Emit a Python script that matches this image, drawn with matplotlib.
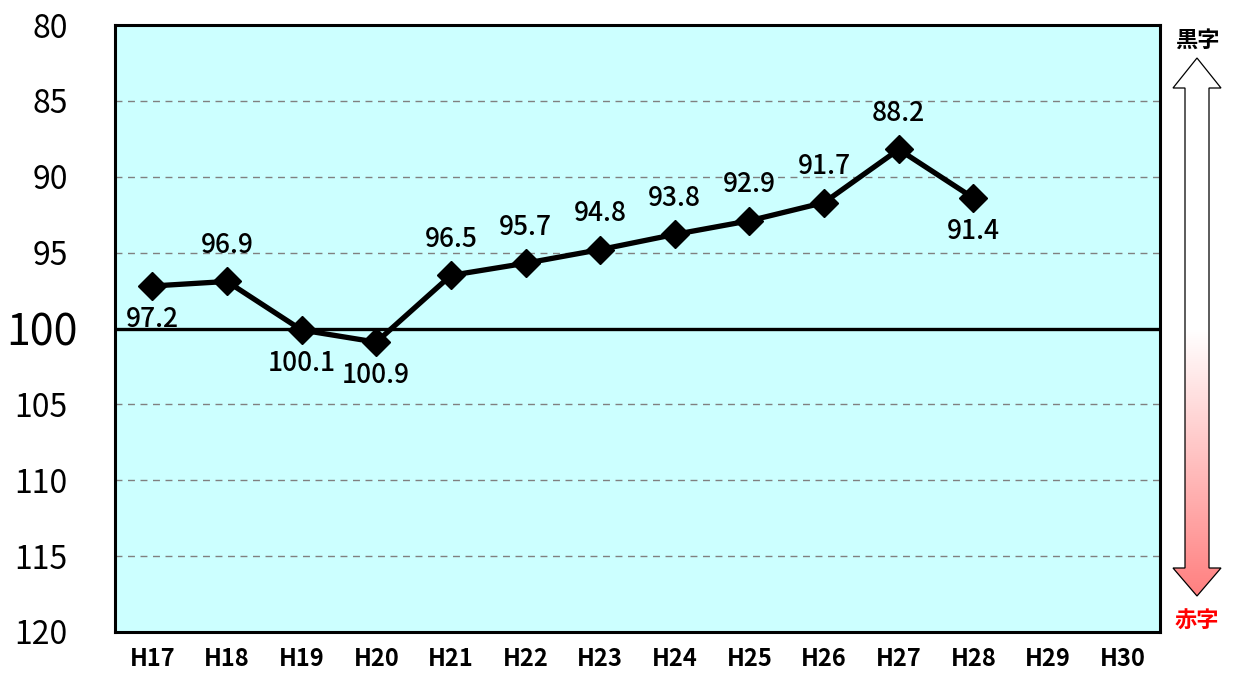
import matplotlib
matplotlib.use("Agg")
import matplotlib.pyplot as plt
import matplotlib.transforms as mtransforms
import numpy as np
from matplotlib.patches import Polygon

plt.rcParams['font.family'] = ['Noto Sans CJK JP', 'DejaVu Sans']

categories = ["H17", "H18", "H19", "H20", "H21", "H22", "H23", "H24",
              "H25", "H26", "H27", "H28", "H29", "H30"]
values = [97.2, 96.9, 100.1, 100.9, 96.5, 95.7, 94.8, 93.8, 92.9, 91.7, 88.2, 91.4, None, None]
label_pos = ["below", "above", "below", "below", "above", "above", "above", "above",
             "above", "above", "above", "below", None, None]
yticks = [80, 85, 90, 95, 100, 105, 110, 115, 120]

W, H = 1240, 675
fig = plt.figure(figsize=(W / 100, H / 100), dpi=100)
L, R, T, B = 115, 1160, 25, 632
ax = fig.add_axes([L / W, 1 - B / H, (R - L) / W, (B - T) / H])
ax.set_facecolor("#CCFFFF")

x = np.arange(len(categories))
vx = [i for i, v in enumerate(values) if v is not None]
vy = [v for v in values if v is not None]

for t in yticks[1:-1]:
    if t == 100:
        ax.axhline(t, color="black", lw=2.4, zorder=2)
    else:
        ax.axhline(t, color="#808080", lw=1.0, ls=(0, (5, 4)), zorder=1)

ax.plot(vx, vy, color="black", lw=3.8, marker="D", ms=14, zorder=3, solid_joinstyle="miter")

for i, v in enumerate(values):
    if v is None:
        continue
    off = 26 if label_pos[i] == "above" else -24
    ax.annotate(f"{v:.1f}", (i, v), xytext=(0, off), textcoords="offset points",
                ha="center", va="center", fontsize=19, fontweight="medium",
                color="black", zorder=4)

ax.set_xlim(-0.5, len(categories) - 0.5)
ax.set_ylim(120, 80)
ax.set_xticks(x)
ax.set_xticklabels(categories, fontsize=17, fontweight="bold")
ax.set_yticks(yticks)
labs = ax.set_yticklabels([str(t) for t in yticks], fontsize=23)
ax.tick_params(axis="both", length=0)
ax.tick_params(axis="y", pad=34)
ax.tick_params(axis="x", pad=11)
shift = mtransforms.ScaledTranslation(10 / 100, 0, fig.dpi_scale_trans)
for lab, t in zip(ax.get_yticklabels(), yticks):
    if t == 100:
        lab.set_fontsize(31)
        lab.set_transform(lab.get_transform() + shift)
for s in ax.spines.values():
    s.set_linewidth(2.2)
    s.set_color("black")

# right-hand double arrow with gradient
ov = fig.add_axes([0, 0, 1, 1])
ov.set_xlim(0, W)
ov.set_ylim(H, 0)
ov.axis("off")
ov.patch.set_alpha(0)
cx = 1197
pts = [(cx, 58), (cx + 24, 88), (cx + 12, 88), (cx + 12, 568), (cx + 24, 568), (cx, 596),
       (cx - 24, 568), (cx - 12, 568), (cx - 12, 88), (cx - 24, 88)]
poly = Polygon(pts, closed=True, facecolor="none", edgecolor="black", lw=0.9, zorder=3)
ov.add_patch(poly)
ys = np.linspace(58, 596, 300)
frac = np.clip((ys - 330) / (596 - 330), 0, 1)
grad = np.zeros((300, 1, 3))
grad[:, 0, 0] = 1.0
grad[:, 0, 1] = 1 - 0.5 * frac
grad[:, 0, 2] = 1 - 0.5 * frac
im = ov.imshow(grad, extent=(cx - 25, cx + 25, 596, 58), aspect="auto", zorder=2)
clip = Polygon(pts, closed=True, transform=ov.transData, facecolor="none")
im.set_clip_path(clip)
ov.set_xlim(0, W)
ov.set_ylim(H, 0)
ov.text(cx, 40, "黒字", ha="center", va="center", fontsize=16, fontweight="bold", color="black")
ov.text(cx, 621, "赤字", ha="center", va="center", fontsize=16, fontweight="bold", color="#FF0000")

fig.savefig("out.png", dpi=100)
